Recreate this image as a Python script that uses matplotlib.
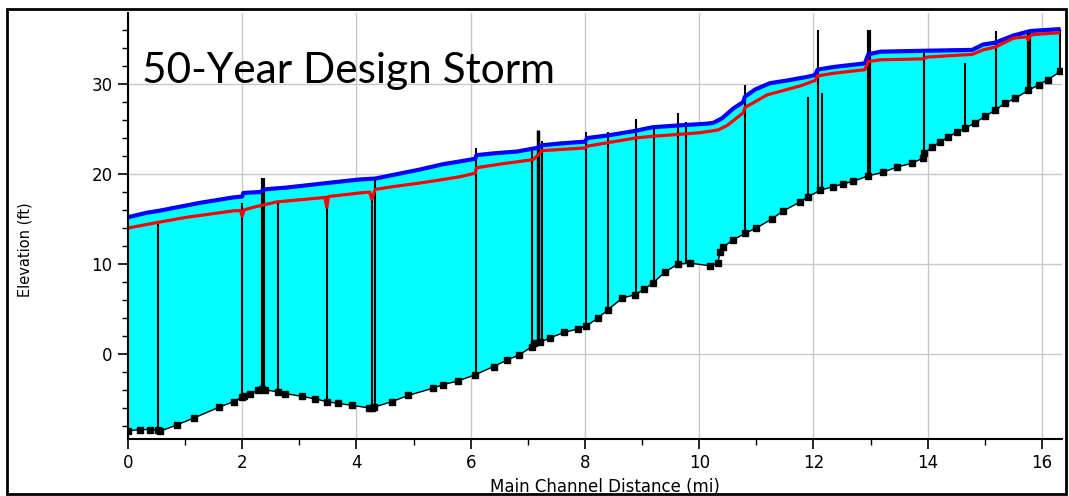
import numpy as np
import matplotlib
matplotlib.use("Agg")
import matplotlib.pyplot as plt
from matplotlib.ticker import MultipleLocator

# channel invert (ground) profile
bed_x = [0, 0.21, 0.38, 0.53, 0.56, 0.85, 1.16, 1.6, 1.85, 2.0, 2.03, 2.14, 2.28, 2.35, 2.4,
         2.63, 2.75, 3.04, 3.28, 3.49, 3.68, 3.92, 4.22, 4.27, 4.31, 4.62, 4.91, 5.34, 5.52,
         5.78, 6.08, 6.4, 6.63, 6.85, 7.07, 7.1, 7.22, 7.39, 7.64, 7.88, 8.02, 8.23, 8.4,
         8.65, 8.88, 9.04, 9.19, 9.4, 9.63, 9.84, 10.19, 10.33, 10.36, 10.42, 10.6, 10.8,
         11.0, 11.27, 11.47, 11.77, 11.91, 12.12, 12.35, 12.52, 12.7, 12.96, 13.22, 13.47,
         13.73, 13.92, 13.94, 14.08, 14.22, 14.36, 14.52, 14.66, 14.83, 15.0, 15.18, 15.36,
         15.53, 15.76, 15.94, 16.11, 16.32]
bed_y = [-8.55, -8.4, -8.4, -8.5, -8.6, -7.9, -7.1, -5.9, -5.3, -4.8, -4.7, -4.5, -4.0, -3.9,
         -4.0, -4.2, -4.4, -4.7, -5.0, -5.3, -5.5, -5.7, -6.0, -6.0, -5.9, -5.3, -4.6, -3.8,
         -3.4, -3.0, -2.3, -1.4, -0.7, -0.1, 0.8, 1.2, 1.3, 1.8, 2.4, 2.8, 3.1, 4.0, 4.9, 6.2,
         6.6, 7.2, 7.9, 9.1, 10.0, 10.1, 9.8, 10.1, 11.3, 11.9, 12.7, 13.4, 14.0, 15.0, 15.9,
         16.9, 17.5, 18.2, 18.6, 18.9, 19.2, 19.8, 20.2, 20.8, 21.2, 21.8, 22.3, 23.0, 23.6,
         24.1, 24.7, 25.1, 25.7, 26.4, 27.1, 27.9, 28.4, 29.3, 29.9, 30.5, 31.4]

# energy grade line
eg_x = [0, 0.33, 0.53, 1.26, 1.84, 2.0, 2.02, 2.31, 2.4, 2.78, 3.48, 4.06, 4.33, 4.64, 5.11,
        5.52, 5.81, 6.08, 6.1, 6.4, 6.81, 7.07, 7.16, 7.25, 7.57, 8.0, 8.04, 8.41, 8.88, 9.18,
        9.63, 10.14, 10.25, 10.4, 10.6, 10.77, 10.8, 10.98, 11.24, 11.54, 11.89, 12.03, 12.07,
        12.35, 12.9, 12.96, 13.17, 13.92, 14.78, 14.97, 15.18, 15.5, 15.8, 16.29]
eg_y = [15.2, 15.7, 15.9, 16.8, 17.4, 17.5, 17.9, 18.0, 18.3, 18.5, 19.0, 19.4, 19.5, 19.9,
        20.5, 21.1, 21.4, 21.7, 22.1, 22.3, 22.5, 22.8, 22.9, 23.2, 23.4, 23.6, 24.0, 24.3,
        24.8, 25.2, 25.4, 25.6, 25.7, 26.2, 27.3, 28.0, 28.6, 29.4, 30.1, 30.4, 30.8, 31.0,
        31.6, 31.9, 32.3, 33.3, 33.6, 33.7, 33.8, 34.4, 34.6, 35.4, 35.9, 36.1]

# water surface
ws_x = [0, 0.5, 1.03, 1.84, 1.97, 2.0, 2.03, 2.19, 2.6, 3.45, 3.48, 3.51, 4.06, 4.23, 4.27,
        4.31, 4.33, 4.64, 5.11, 5.52, 5.81, 6.08, 6.1, 6.51, 7.09, 7.18, 7.25, 8.0, 8.04, 8.41,
        8.88, 9.18, 9.63, 10.02, 10.33, 10.49, 10.77, 10.8, 11.19, 11.77, 12.03, 12.07, 12.35,
        12.9, 12.96, 13.17, 13.92, 13.99, 14.78, 14.97, 15.18, 15.5, 15.73, 15.76, 15.79,
        15.85, 16.29]
ws_y = [14.0, 14.6, 15.2, 15.9, 15.95, 15.3, 16.0, 16.3, 16.9, 17.4, 16.3, 17.5, 17.9, 18.0,
        17.2, 18.0, 18.3, 18.6, 19.0, 19.4, 19.7, 20.1, 20.7, 21.1, 21.6, 22.1, 22.6, 22.9,
        23.1, 23.5, 24.0, 24.2, 24.4, 24.6, 24.9, 25.4, 26.8, 27.4, 28.8, 29.8, 30.4, 30.9,
        31.2, 31.6, 32.5, 32.7, 32.8, 33.0, 33.3, 33.8, 34.1, 35.1, 35.25, 34.9, 35.35, 35.5,
        35.7]

# structures (bridges / culverts): station and top elevation
struct_x = [0.53, 2.0, 2.37, 2.63, 3.48, 4.27, 4.33, 6.1, 7.07, 7.18, 7.25, 8.02, 8.41, 8.9,
            9.2, 9.63, 9.77, 10.8, 11.9, 12.08, 12.15, 12.97, 13.93, 14.66, 15.2, 15.78, 16.32]
struct_top = [14.4, 16.8, 19.6, 16.9, 17.6, 17.4, 19.5, 22.9, 22.7, 24.9, 23.7, 24.7, 24.7,
              26.1, 25.3, 26.8, 25.8, 29.9, 28.6, 36.0, 29.0, 36.0, 33.6, 32.3, 35.9, 36.0, 36.1]
struct_w = [1.5, 1.5, 3, 1.5, 1.5, 1.5, 1.5, 1.5, 1.5, 2.5, 1.5, 1.5, 1.5, 1.5, 1.5, 1.5, 1.5,
            1.5, 1.5, 1.5, 1.5, 3, 1.5, 1.5, 1.5, 3, 1.5]

x_ticks = [0, 2, 4, 6, 8, 10, 12, 14, 16]
y_ticks = [0, 10, 20, 30]

fig = plt.figure(figsize=(10.69, 4.96), dpi=100)
ax = fig.add_axes([0.1197, 0.1149, 0.8737, 0.8589])

ax.grid(True, color='#c8c8c8', lw=1)
ax.set_axisbelow(True)

poly_x = np.concatenate([eg_x, bed_x[::-1]])
poly_y = np.concatenate([eg_y, bed_y[::-1]])
ax.fill(poly_x, poly_y, color='#00ffff', lw=0, zorder=2)

struct_bot = np.interp(struct_x, bed_x, bed_y)
ax.vlines(struct_x, struct_bot, struct_top, colors='black', linewidths=struct_w, zorder=3)

ax.plot(eg_x, eg_y, color='#0000ff', lw=3, zorder=4)
ax.plot(ws_x, ws_y, color='#ff0000', lw=2.3, zorder=5)
ax.plot(bed_x, bed_y, color='black', lw=1, marker='s', ms=4.2, zorder=6)

ax.set_xlim(0, 16.35)
ax.set_ylim(-9.45, 37.9)
ax.set_xticks(x_ticks)
ax.set_yticks(y_ticks)
ax.xaxis.set_minor_locator(MultipleLocator(1))
ax.yaxis.set_minor_locator(MultipleLocator(2))
ax.tick_params(which='major', length=7, width=1.2, labelsize=12, direction='out', pad=4)
ax.tick_params(which='minor', length=4, width=1, direction='out')

for s in ['top', 'right']:
    ax.spines[s].set_visible(False)
for s in ['left', 'bottom']:
    ax.spines[s].set_linewidth(1.5)
    ax.spines[s].set_zorder(7)

# axis titles placed in figure pixels like the reference
fig.text(605 / 1069, 1 - 487 / 496, 'Main Channel Distance (mi)', fontsize=12,
         ha='center', va='center')
fig.text(25 / 1069, 1 - 250 / 496, 'Elevation (ft)', fontsize=10.5, rotation=90,
         ha='center', va='center')

ax.text(0.25, 30.1, '50-Year Design Storm', fontsize=30.5, family='Lato',
        va='baseline', ha='left', zorder=8)

# outer frame
fig.patches.append(plt.Rectangle((0.0065, 0.004), 0.991, 0.977, transform=fig.transFigure,
                                 fill=False, edgecolor='black', lw=2))

fig.savefig('out.png', dpi=100)
